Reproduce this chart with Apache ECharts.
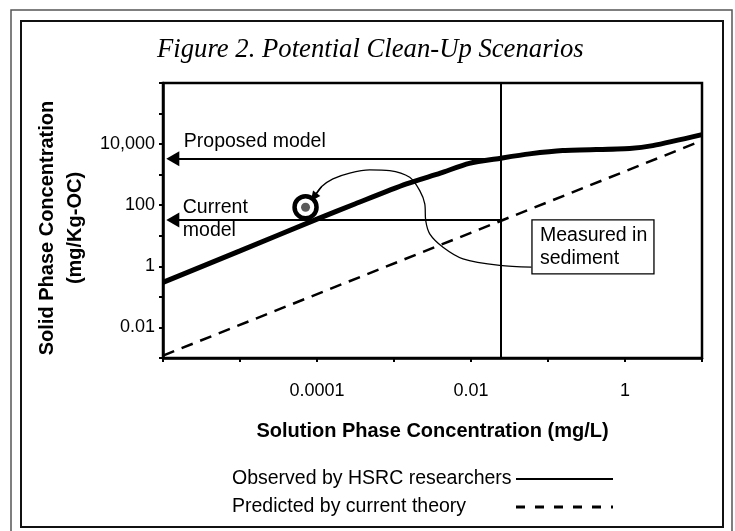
<!DOCTYPE html>
<html><head><meta charset="utf-8">
<script src="https://cdn.jsdelivr.net/npm/echarts@6/dist/echarts.min.js"></script>
<style>html,body{margin:0;padding:0;background:#fff}#c{width:735px;height:531px}</style>
</head><body><div id="c"></div>
<script>
// ---- data ----
const observedX = [1e-6, 1e-5, 1e-4, 3.16e-4, 1.45e-3, 4e-3, 9.5e-3, 0.0245, 0.0575, 0.155, 1.15, 2.29, 10];
const observedY = [0.30, 3.2, 35, 112, 500, 1120, 2340, 3470, 4790, 6170, 7240, 8910, 20400];
const predictedX = [1e-6, 10];
const predictedY = [0.0012, 13000];
const sedimentPoint = [7.1e-5, 86];
const intersectX = 0.024;
const proposedY = 3300;
const currentY = 32.8;
const arrowEndX = 1.34e-6;
const calloutX = [0.0608, 0.0236, 0.00787, 0.00433, 0.00291, 0.00258, 0.00251, 0.00216, 0.0016, 0.000879, 0.000483, 0.000266, 0.000161, 0.000115, 0.0000906];
const calloutY = [0.942, 1.07, 1.77, 4.24, 11.6, 31.6, 111, 302, 822, 1360, 1435, 1127, 729, 408, 182];
const boxAnchor = [0.0619, 33.3];
const xTickLabels = {'-4': '0.0001', '-2': '0.01', '0': '1'};
const yTickLabels = {'-2': '0.01', '0': '1', '2': '100', '4': '10,000'};
const seriesNames = ['Observed by HSRC researchers', 'Predicted by current theory'];
const titleText = 'Figure 2. Potential Clean-Up Scenarios';
const xName = 'Solution Phase Concentration (mg/L)';
const yName = 'Solid Phase Concentration\n(mg/Kg-OC)';

const FONT = "'Liberation Sans', Arial, Helvetica, sans-serif";
const zip = (a, b) => a.map((v, i) => [v, b[i]]);
const expOf = v => Math.round(Math.log10(v));
const noSymbol = {color: 'rgba(0,0,0,0)', borderColor: 'rgba(0,0,0,0)', borderWidth: 0, opacity: 0};

const option = {
  animation: false,
  backgroundColor: '#fff',
  title: {
    text: titleText, left: 152, top: 31,
    textStyle: {fontFamily: "'Liberation Serif', 'Times New Roman', serif", fontStyle: 'italic', fontWeight: 'normal', fontSize: 26.7, color: '#000'}
  },
  grid: {left: 163, right: 33, top: 83, bottom: 173, show: true, borderColor: '#000', borderWidth: 2.5, backgroundColor: 'transparent'},
  legend: {
    left: 227, top: 464, orient: 'vertical', align: 'right',
    itemWidth: 97, itemHeight: 10, itemGap: 8,
    data: [
      {name: seriesNames[0], lineStyle: {width: 2, type: 'solid', color: '#000'}, itemStyle: noSymbol},
      {name: seriesNames[1], lineStyle: {width: 3, type: [9, 10], color: '#000'}, itemStyle: noSymbol}
    ],
    formatter: n => '{t|' + n + '}',
    textStyle: {fontFamily: FONT, fontSize: 19.5, color: '#000',
      rich: {t: {width: 279, align: 'left', fontFamily: FONT, fontSize: 19.5, color: '#000', lineHeight: 22}}}
  },
  xAxis: {
    type: 'log', logBase: 10, min: 1e-6, max: 10, splitNumber: 7,
    name: xName, nameLocation: 'middle', nameGap: 63,
    nameTextStyle: {fontFamily: FONT, fontWeight: 'bold', fontSize: 20, color: '#000'},
    axisLine: {show: true, onZero: false, lineStyle: {color: '#000', width: 2.5}},
    axisTick: {show: true, inside: false, length: 4, lineStyle: {color: '#000', width: 2}},
    axisLabel: {margin: 24, fontFamily: FONT, fontSize: 18, color: '#000', formatter: v => xTickLabels[String(expOf(v))] || ''},
    splitLine: {show: false}, minorTick: {show: false}
  },
  yAxis: {
    type: 'log', logBase: 10, min: 1e-3, max: 1e6, splitNumber: 9,
    name: yName, nameLocation: 'middle', nameRotate: 90, nameGap: 74,
    nameTextStyle: {fontFamily: FONT, fontWeight: 'bold', fontSize: 20, color: '#000', lineHeight: 28, padding: [0, 15, 0, 0]},
    axisLine: {show: true, onZero: false, lineStyle: {color: '#000', width: 2.5}},
    axisTick: {show: true, inside: false, length: 4, lineStyle: {color: '#000', width: 2}},
    axisLabel: {margin: 8, fontFamily: FONT, fontSize: 18, color: '#000', formatter: v => yTickLabels[String(expOf(v))] || ''},
    splitLine: {show: false}, minorTick: {show: false}
  },
  series: [
    {
      name: seriesNames[1], type: 'line', data: zip(predictedX, predictedY),
      symbol: 'none', showSymbol: false, silent: true,
      lineStyle: {color: '#000', width: 2.5, type: [12, 8]}, itemStyle: {color: '#000'}, z: 3
    },
    {
      name: seriesNames[0], type: 'line', data: zip(observedX, observedY),
      symbol: 'none', showSymbol: false, smooth: 0.25, silent: true,
      lineStyle: {color: '#000', width: 5}, itemStyle: {color: '#000'}, z: 4,
      markLine: {
        silent: true, animation: false, label: {show: false},
        lineStyle: {color: '#000', width: 2, type: 'solid'},
        data: [
          [{coord: [intersectX, 1e-3], symbol: 'none'}, {coord: [intersectX, 1e6], symbol: 'none'}],
          [{coord: [intersectX, proposedY], symbol: 'none'}, {coord: [arrowEndX, proposedY], symbol: 'triangle', symbolSize: [15, 13]}],
          [{coord: [intersectX, currentY], symbol: 'none'}, {coord: [arrowEndX, currentY], symbol: 'triangle', symbolSize: [15, 13]}]
        ]
      }
    },
    {
      name: 'callout', type: 'line', data: zip(calloutX, calloutY),
      symbol: 'none', showSymbol: false, smooth: 0.3, silent: true,
      lineStyle: {color: '#000', width: 1.3}, z: 5,
      markLine: {
        silent: true, animation: false, label: {show: false},
        lineStyle: {color: '#000', width: 1.3, type: 'solid'},
        data: [[{coord: [calloutX[13], calloutY[13]], symbol: 'none'}, {coord: [calloutX[14], calloutY[14]], symbol: 'triangle', symbolSize: [9, 10]}]]
      }
    },
    {
      name: 'sediment', type: 'scatter', data: [sedimentPoint], symbol: 'circle', symbolSize: 22, silent: true,
      itemStyle: {color: '#fff', borderColor: '#000', borderWidth: 4.5, opacity: 1}, z: 6
    },
    {
      name: 'sedimentDot', type: 'scatter', data: [sedimentPoint], symbol: 'circle', symbolSize: 9, silent: true,
      itemStyle: {color: '#5a5a5a', opacity: 1}, z: 7
    }
  ]
};

const chart = echarts.init(document.getElementById('c'), null, {renderer: 'canvas'});
chart.setOption(option);
const px = p => chart.convertToPixel({xAxisIndex: 0, yAxisIndex: 0}, p);
const pProp = px([arrowEndX, proposedY]);
const pCur = px([arrowEndX, currentY]);
const pBox = px(boxAnchor);
const ANN_FONT = '19.5px ' + FONT;
chart.setOption({
  graphic: [
    {type: 'rect', silent: true, shape: {x: 11, y: 10, width: 721, height: 532}, style: {fill: 'none', stroke: '#555', lineWidth: 1.5}, z: 1},
    {type: 'rect', silent: true, shape: {x: 21, y: 21, width: 702, height: 506}, style: {fill: 'none', stroke: '#111', lineWidth: 2}, z: 1},
    {type: 'text', silent: true, x: pProp[0] + 11, y: pProp[1] - 17,
      style: {text: 'Proposed model', font: ANN_FONT, fill: '#000', verticalAlign: 'middle', align: 'left'}, z: 10},
    {type: 'text', silent: true, x: pCur[0] + 10, y: pCur[1] - 1,
      style: {text: 'Current\nmodel', font: ANN_FONT, fill: '#000', verticalAlign: 'middle', align: 'left', lineHeight: 23}, z: 10},
    {type: 'group', silent: true, x: pBox[0], y: pBox[1], z: 10, children: [
      {type: 'rect', shape: {x: 0, y: 0, width: 122, height: 54}, style: {fill: '#fff', stroke: '#000', lineWidth: 1.3}},
      {type: 'text', x: 8, y: 27.5, style: {text: 'Measured in\nsediment', font: ANN_FONT, fill: '#000', verticalAlign: 'middle', align: 'left', lineHeight: 22.5}}
    ]}
  ]
});
</script>
</body></html>
